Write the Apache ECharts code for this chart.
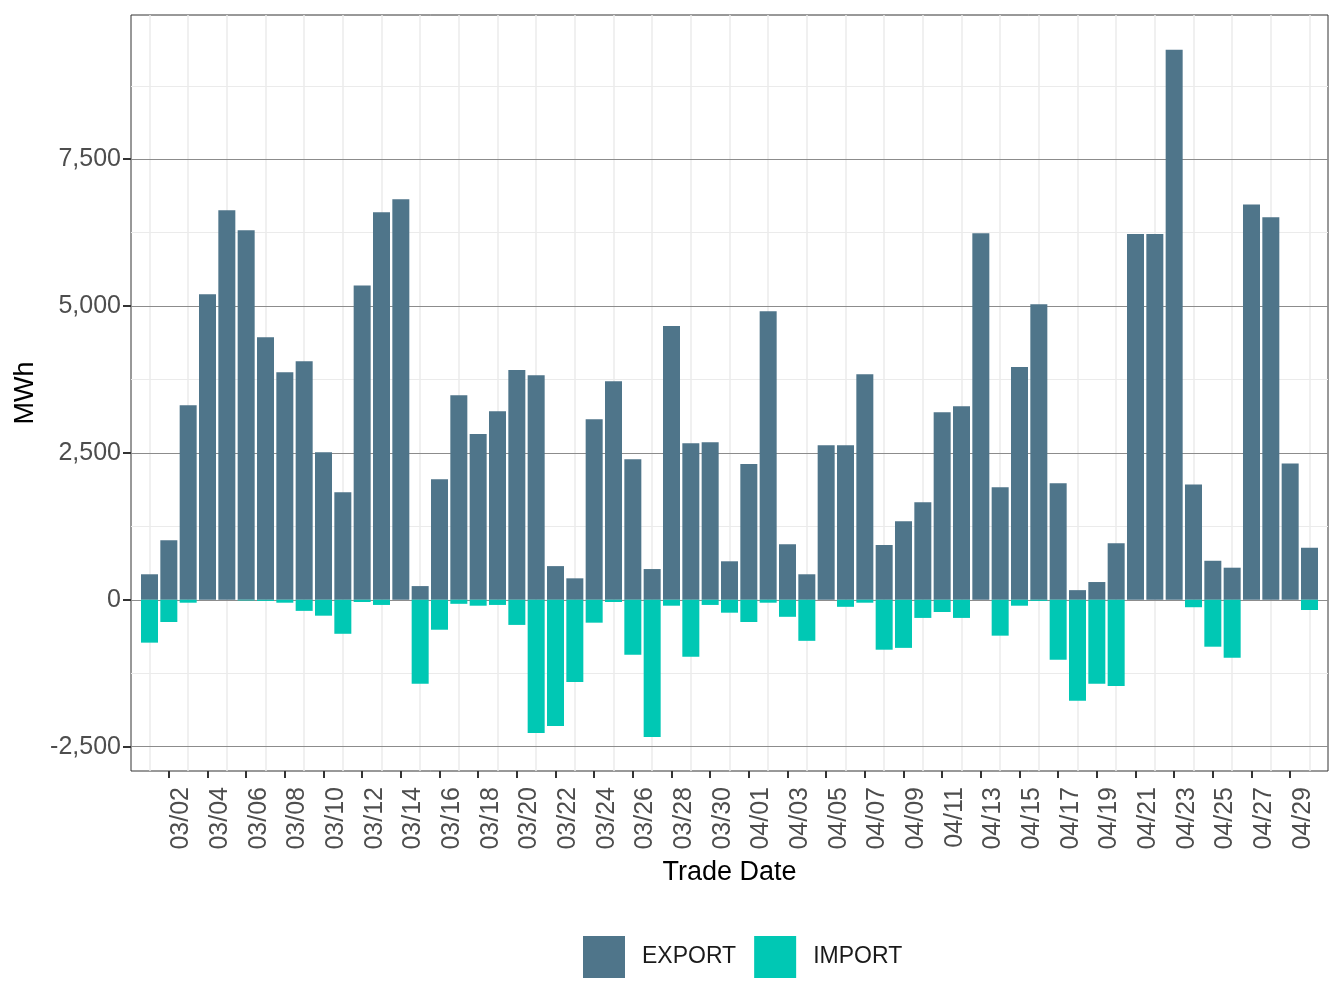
<!DOCTYPE html>
<html>
<head>
<meta charset="utf-8">
<script src="https://cdn.jsdelivr.net/npm/echarts@6/dist/echarts.min.js"></script>
<style>
  html, body { margin: 0; padding: 0; background: #fff; }
  #chart { width: 1344px; height: 1008px; }
</style>
</head>
<body>
<div id="chart"></div>
<script>
// trade dates (03/01 .. 04/30)
const dates = [
  '03/01','03/02','03/03','03/04','03/05','03/06','03/07','03/08','03/09','03/10',
  '03/11','03/12','03/13','03/14','03/15','03/16','03/17','03/18','03/19','03/20',
  '03/21','03/22','03/23','03/24','03/25','03/26','03/27','03/28','03/29','03/30',
  '03/31','04/01','04/02','04/03','04/04','04/05','04/06','04/07','04/08','04/09',
  '04/10','04/11','04/12','04/13','04/14','04/15','04/16','04/17','04/18','04/19',
  '04/20','04/21','04/22','04/23','04/24','04/25','04/26','04/27','04/28','04/29',
  '04/30'
]

// MWh exported per day
const exportMWh = [
  434, 1014, 3312, 5201, 6631, 6291, 4471, 3873, 4062, 2513,
  1832, 5352, 6599, 6820, 233, 2053, 3482, 2821, 3211, 3910,
  3822, 573, 365, 3073, 3722, 2393, 523, 4660, 2664, 2683,
  655, 2311, 4912, 945, 434, 2632, 2632, 3841, 932, 1335,
  1662, 3193, 3293, 6240, 1914, 3961, 5031, 1984, 164, 302,
  963, 6225, 6225, 9365, 1962, 664, 546, 6731, 6510, 2318,
  886
]

// MWh imported per day (negative)
const importMWh = [
  -730, -378, -50, 0, 0, -12, -19, -50, -189, -271,
  -579, -38, -88, 0, -1429, -510, -69, -101, -88, -428,
  -2267, -2147, -1398, -390, -38, -938, -2336, -101, -970, -88,
  -220, -378, -50, -290, -699, 0, -120, -50, -850, -819,
  -309, -208, -309, 0, -611, -101, -19, -1020, -1719, -1429,
  -1467, 0, 0, 0, -127, -799, -989, 0, 0, 0,
  -174
]

const yTicks = [-2500, 0, 2500, 5000, 7500]
const yMinor = [-1250, 1250, 3750, 6250, 8750]

const fmt = v => v.toLocaleString('en-US')

// labelled days: 03/02, 03/04, ... ; grid lines fall on the days in between
const xTicks = dates.map((d, i) => i).filter(i => i % 2 === 1)
const xGrid = dates.map((d, i) => i).filter(i => i % 2 === 0)

const chart = echarts.init(document.getElementById('chart'))

chart.setOption({
  animation: false,
  backgroundColor: '#fff',
  textStyle: { fontFamily: 'Liberation Sans, Arial, sans-serif' },
  grid: {
    left: 131, right: 16, top: 15, bottom: 237,
    show: true, borderColor: '#333', borderWidth: 1, backgroundColor: '#fff'
  },
  legend: {
    data: ['EXPORT', 'IMPORT'],
    left: 578, top: 931,
    itemWidth: 42, itemHeight: 42, itemGap: 18,
    icon: 'rect',
    textStyle: { fontSize: 23, color: '#1a1a1a', padding: [0, 0, 0, 12] }
  },
  xAxis: {
    type: 'value',
    min: -0.957, max: 60.957,
    name: 'Trade Date',
    nameLocation: 'middle',
    nameGap: 88,
    nameTextStyle: { fontSize: 27, color: '#000' },
    axisLine: { show: false, onZero: false },
    axisTick: {
      show: true, length: 7, customValues: xTicks,
      lineStyle: { color: '#333', width: 2 }
    },
    axisLabel: {
      customValues: xTicks,
      formatter: v => dates[v],
      rotate: 90, margin: 16,
      verticalAlign: 'top',
      fontSize: 25, color: '#4d4d4d'
    },
    splitLine: { show: false }
  },
  yAxis: {
    type: 'value',
    min: -2915, max: 9955,
    name: 'MWh',
    nameLocation: 'middle',
    nameGap: 87,
    nameTextStyle: { fontSize: 27, color: '#000' },
    axisLine: { show: false, onZero: false },
    axisTick: { show: true, length: 8, customValues: yTicks, lineStyle: { color: '#333', width: 2 } },
    axisLabel: { customValues: yTicks, formatter: fmt, margin: 10, fontSize: 25, color: '#4d4d4d' },
    splitLine: { show: false }
  },
  series: [
    {
      name: 'grid',
      type: 'line',
      data: [],
      silent: true,
      markLine: {
        z: 1,
        silent: true,
        symbol: 'none',
        label: { show: false },
        animation: false,
        data: [
          ...xGrid.map(i => ({ xAxis: i, lineStyle: { color: '#ebebeb', width: 1.5, type: 'solid' } })),
          ...yMinor.map(v => ({ yAxis: v, lineStyle: { color: '#ebebeb', width: 1.2, type: 'solid' } })),
          ...yTicks.map(v => ({ yAxis: v, lineStyle: { color: '#8c8c8c', width: 1.2, type: 'solid' } }))
        ]
      }
    },
    {
      name: 'EXPORT',
      type: 'bar',
      z: 3,
      barWidth: 17,
      barGap: '-100%',
      itemStyle: { color: '#4f758a' },
      data: exportMWh.map((v, i) => [i, v])
    },
    {
      name: 'IMPORT',
      type: 'bar',
      z: 3,
      barWidth: 17,
      barGap: '-100%',
      itemStyle: { color: '#00c8b4' },
      data: importMWh.map((v, i) => [i, v])
    }
  ]
})
</script>
</body>
</html>
